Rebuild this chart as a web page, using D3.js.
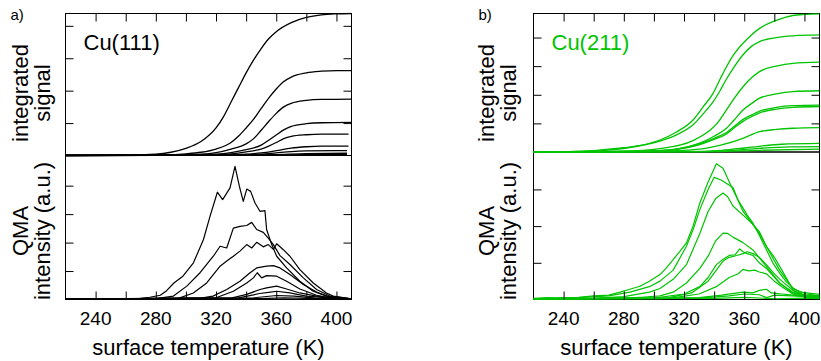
<!DOCTYPE html>
<html>
<head>
<meta charset="utf-8">
<script src="https://cdn.jsdelivr.net/npm/d3@7"></script>
<style>
  body { margin: 0; background: #fff; }
  text { font-family: "Liberation Sans", Arial, Helvetica, sans-serif; }
</style>
</head>
<body>
<div id="chart"></div>
<script>
// ticks on the temperature axis
const tempTicks = [240, 260, 280, 300, 320, 340, 360, 380, 400];
const tempLabels = [240, 280, 320, 360, 400];

// Cu(111) integrated signal, [T (K), value in tick units]
const int111_1 = [[220,0],[260,0.01],[280,0.04],[290,0.1],[300,0.22],[310,0.43],[320,0.85],[325,1.2],[330,1.65],[335,2.1],[340,2.55],[345,2.95],[350,3.3],[355,3.6],[360,3.82],[370,4.1],[380,4.26],[390,4.34],[400,4.37],[410,4.38]];
const int111_2 = [[220,0],[280,0.01],[300,0.05],[310,0.1],[320,0.2],[330,0.4],[335,0.6],[340,0.85],[345,1.12],[350,1.45],[355,1.77],[360,2.05],[365,2.28],[370,2.42],[380,2.55],[390,2.6],[400,2.62],[410,2.62]];
const int111_3 = [[220,0],[290,0.01],[310,0.04],[320,0.09],[330,0.2],[340,0.36],[345,0.52],[350,0.78],[355,1.05],[360,1.3],[365,1.5],[370,1.61],[380,1.7],[390,1.73],[410,1.74]];
const int111_4 = [[220,0],[300,0.01],[320,0.04],[330,0.09],[340,0.18],[350,0.32],[355,0.47],[360,0.63],[365,0.79],[370,0.9],[380,0.98],[390,1.01],[410,1.02]];
const int111_5 = [[220,0],[310,0.01],[330,0.05],[340,0.11],[350,0.2],[355,0.29],[360,0.4],[365,0.52],[370,0.59],[380,0.64],[390,0.66],[408,0.66]];
const int111_6 = [[220,0],[320,0.01],[340,0.04],[350,0.08],[360,0.15],[370,0.23],[380,0.27],[390,0.29],[408,0.29]];
const int111_7 = [[220,0],[330,0.01],[350,0.04],[360,0.08],[370,0.12],[380,0.14],[400,0.15],[407,0.15]];
const int111_8 = [[220,0],[340,0.01],[360,0.03],[380,0.06],[407,0.07]];
const int111_9 = [[220,0],[350,0.01],[380,0.025],[407,0.03]];

// Cu(111) QMA intensity
const tpd111_1 = [[220,0.02],[250,0.02],[270,0.04],[276,0.08],[283,0.15],[287,0.3],[292,0.58],[298,0.82],[305,1.29],[311.6,2.1],[316,2.92],[320.9,3.77],[324.4,3.51],[329.3,3.92],[332.6,4.68],[335.5,3.98],[338.1,3.45],[340.4,3.88],[343,3.8],[345.9,3.39],[349.2,3.1],[352.5,3.12],[353.6,2.46],[357,1.93],[360.3,1.52],[366.9,1.11],[375.7,0.64],[384.6,0.29],[393.4,0.12],[397.8,0.06],[410,0.02]];
const tpd111_2 = [[220,0.01],[280,0.03],[291.7,0.12],[300.6,0.47],[309.4,0.94],[318.2,1.52],[322.7,1.87],[327.1,1.81],[331.5,2.51],[335.9,2.57],[340.4,2.6],[343.7,2.71],[347,2.46],[351.4,2.36],[354.7,2.16],[358.1,1.93],[362.5,1.54],[369.1,1.23],[378,0.76],[386.8,0.35],[395.6,0.12],[410,0.02]];
const tpd111_3 = [[220,0.01],[295,0.04],[304.9,0.23],[313.8,0.58],[322.7,1.17],[327.1,1.35],[331.5,1.52],[335.9,1.7],[340.4,1.93],[343.7,1.81],[347,2.01],[351.4,1.85],[354.7,1.93],[358.1,1.76],[360.3,1.96],[364.7,1.75],[369.1,1.52],[375.7,1.05],[384.6,0.58],[393.4,0.23],[397.8,0.12],[410,0.02]];
const tpd111_4 = [[220,0.01],[310,0.05],[318,0.12],[327.1,0.35],[335.9,0.64],[342.6,0.94],[347,1.11],[353.6,1.17],[358.1,1.19],[362.5,1.11],[369.1,0.88],[378,0.53],[386.8,0.26],[395.6,0.09],[410,0.02]];
const tpd111_5 = [[220,0.01],[320,0.06],[331.5,0.29],[340.4,0.58],[344.8,0.76],[347.4,0.94],[350.3,0.76],[353.6,0.84],[360.3,0.82],[366.9,0.64],[375.7,0.37],[386.8,0.15],[395.6,0.06],[410,0.02]];
const tpd111_6 = [[220,0.01],[330,0.05],[340.4,0.18],[349.2,0.35],[353.6,0.41],[360.3,0.47],[366.9,0.37],[375.7,0.23],[386.8,0.12],[395.6,0.07],[410,0.02]];
const tpd111_7 = [[220,0.01],[335,0.06],[349,0.21],[355,0.25],[360.3,0.29],[369,0.23],[380,0.12],[395,0.06],[410,0.02]];
const tpd111_8 = [[220,0.01],[345,0.06],[360.3,0.14],[372,0.12],[386,0.05],[410,0.02]];
const tpd111_9 = [[220,0.01],[350,0.03],[365,0.06],[380,0.04],[410,0.01]];

// Cu(211) integrated signal
const int211_1 = [[220,0],[250,0.02],[260,0.05],[280,0.15],[290,0.22],[304,0.42],[315,0.7],[326,1.12],[333,1.6],[339.3,2.05],[344,2.55],[348.2,2.98],[353,3.4],[359.2,3.8],[365,4.1],[370.2,4.32],[381.3,4.6],[392.3,4.77],[400,4.81],[410,4.83]];
const int211_2 = [[220,0],[260,0.04],[282,0.14],[304,0.38],[315,0.6],[326,0.95],[333,1.35],[339.3,1.75],[344,2.15],[348.2,2.55],[353,2.95],[359.2,3.4],[365,3.7],[370.2,3.86],[381.3,4.0],[392.3,4.06],[410,4.09]];
const int211_3 = [[220,0],[280,0.03],[304,0.12],[326,0.4],[337,0.75],[342,1.0],[348.2,1.47],[353,1.85],[359.2,2.28],[365,2.6],[370.2,2.81],[381.3,3.0],[392.3,3.1],[410,3.14]];
const int211_4 = [[220,0],[290,0.02],[315,0.1],[330,0.3],[340,0.55],[348.2,0.83],[353,1.1],[359.2,1.47],[365,1.7],[370.2,1.88],[381.3,2.03],[392.3,2.11],[410,2.14]];
const int211_5 = [[220,0],[290,0.02],[315,0.1],[330,0.28],[340,0.48],[348.2,0.68],[353,0.88],[359.2,1.14],[365,1.3],[370.2,1.43],[381.3,1.56],[392.3,1.62],[410,1.64]];
const int211_6 = [[220,0],[290,0.02],[315,0.09],[330,0.25],[340,0.44],[348.2,0.63],[353,0.83],[359.2,1.07],[365,1.24],[370.2,1.37],[381.3,1.5],[392.3,1.56],[410,1.59]];
const int211_7 = [[220,0],[300,0.02],[330,0.1],[345,0.25],[359.2,0.48],[370.2,0.71],[381.3,0.79],[392.3,0.83],[410,0.85]];
const int211_8 = [[220,0],[320,0.01],[345,0.06],[360,0.14],[370,0.2],[385,0.27],[410,0.3]];
const int211_9 = [[220,0],[330,0.01],[350,0.05],[370,0.13],[390,0.18],[410,0.19]];
const int211_10 = [[220,0],[340,0.01],[370,0.06],[410,0.1]];

// Cu(211) QMA intensity
const tpd211_1 = [[220,0.02],[230,0.04],[240,0.05],[250,0.06],[260,0.1],[270,0.12],[277.5,0.2],[284,0.28],[290.7,0.36],[297,0.5],[304,0.68],[308,0.85],[312.8,1.09],[317,1.3],[321.6,1.54],[326,2.0],[330.5,2.63],[336,3.2],[341.5,3.7],[345.9,3.58],[349,3.3],[352.5,2.99],[356,2.7],[359.2,2.49],[362,2.3],[365.8,2.08],[370,1.75],[374.7,1.36],[379,1.0],[383.5,0.72],[388,0.48],[392.3,0.32],[397,0.2],[401.2,0.18],[410,0.14]];
const tpd211_2 = [[220,0.01],[250,0.05],[270,0.1],[284,0.2],[297,0.35],[304,0.5],[312.8,0.8],[321.6,1.45],[326,1.9],[330.5,2.45],[336,3.0],[340,3.33],[345,3.25],[348,3.17],[352.5,3.05],[356,2.7],[359.2,2.4],[365.8,2.04],[370,1.8],[374.7,1.45],[380,1.15],[385,0.8],[392.3,0.27],[397,0.15],[401.2,0.12],[410,0.1]];
const tpd211_3 = [[220,0.01],[260,0.03],[280,0.08],[297,0.2],[304,0.3],[312.8,0.55],[321.6,0.95],[330.5,1.8],[336,2.4],[341,2.75],[345.9,2.9],[349,2.8],[352.5,2.55],[359.2,2.3],[365.8,2.05],[370,1.85],[374.7,1.45],[383.5,0.8],[392.3,0.3],[401.2,0.15],[410,0.1]];
const tpd211_4 = [[220,0.01],[290,0.05],[304,0.1],[312.8,0.2],[321.6,0.45],[330.5,0.85],[336,1.18],[341,1.6],[345.9,1.81],[349,1.8],[352.5,1.7],[359.2,1.55],[365.8,1.35],[374.7,0.9],[383.5,0.45],[392.3,0.2],[401.2,0.1],[410,0.07]];
const tpd211_5 = [[220,0.01],[300,0.04],[320,0.15],[330.5,0.35],[336,0.6],[341.5,0.95],[346,1.1],[350,1.2],[354,1.22],[357,1.38],[359.2,1.3],[362,1.25],[365.8,1.2],[370,1.0],[374.7,0.85],[383.5,0.45],[392.3,0.18],[401.2,0.08],[410,0.05]];
const tpd211_6 = [[220,0.01],[310,0.05],[325,0.18],[336,0.5],[341.5,0.8],[346,1.05],[350,1.15],[355,1.2],[359.2,1.25],[362,1.3],[365.8,1.25],[370,1.15],[374.7,0.95],[380,0.7],[385,0.5],[392.3,0.25],[401.2,0.1],[410,0.05]];
const tpd211_7 = [[220,0.01],[310,0.03],[330,0.15],[341.5,0.35],[350,0.6],[356,0.7],[359.2,0.82],[363,0.78],[367,0.8],[370,0.75],[374.7,0.7],[380,0.5],[385,0.35],[392.3,0.15],[401.2,0.06],[410,0.03]];
const tpd211_8 = [[220,0.02],[300,0.03],[330,0.05],[345,0.12],[359.2,0.2],[365.8,0.18],[370,0.25],[374.7,0.28],[378,0.18],[385,0.15],[392.3,0.12],[401.2,0.08],[410,0.05]];
const tpd211_9 = [[220,0.01],[300,0.02],[330,0.04],[350,0.1],[360,0.15],[370,0.13],[375,0.05],[380,0.12],[392,0.1],[410,0.06]];
const tpd211_10 = [[220,0.03],[230,0.05],[240,0.02],[250,0.04],[260,0.02],[270,0.05],[280,0.03],[290,0.06],[300,0.02],[320,0.04],[340,0.03],[360,0.06],[380,0.02],[400,0.04],[410,0.02]];

const W = 821, H = 361;

const svg = d3.select("#chart").append("svg")
    .attr("width", W)
    .attr("height", H);

const panels = [
    {
        id: "a", tag: "a)", name: "Cu(111)", color: "#000000",
        left: 65.5, right: 351.5, top: 13.5, mid: 155.5, bottom: 299.5,
        topMax: 4.38, botMax: 5.06, topTicks: [1, 2, 3, 4], botTicks: [1, 2, 3, 4],
        titleOff: [37.5, 15.5],
        integ: [int111_1, int111_2, int111_3, int111_4, int111_5, int111_6, int111_7, int111_8, int111_9],
        qma: [tpd111_1, tpd111_2, tpd111_3, tpd111_4, tpd111_5, tpd111_6, tpd111_7, tpd111_8, tpd111_9]
    },
    {
        id: "b", tag: "b)", name: "Cu(211)", color: "#00c400",
        left: 533.5, right: 819.5, top: 13.5, mid: 152, bottom: 299.5,
        topMax: 4.84, botMax: 4.02, topTicks: [1, 2, 3, 4], botTicks: [1, 2, 3],
        titleOff: [39.5, 17.5],
        integ: [int211_1, int211_2, int211_3, int211_4, int211_5, int211_6, int211_7, int211_8, int211_9, int211_10],
        qma: [tpd211_1, tpd211_2, tpd211_3, tpd211_4, tpd211_5, tpd211_6, tpd211_7, tpd211_8, tpd211_9, tpd211_10]
    }
];

panels.forEach(p => drawPanel(p));

function drawPanel(p) {
    const g = svg.append("g");

    const x = d3.scaleLinear().domain([220, 410]).range([p.left, p.right]);
    const yTop = d3.scaleLinear().domain([0, p.topMax]).range([p.mid, p.top]);
    const yBot = d3.scaleLinear().domain([0, p.botMax]).range([p.bottom, p.mid]);

    // clip areas
    const defs = g.append("defs");
    defs.append("clipPath").attr("id", "clip-top-" + p.id)
        .append("rect")
        .attr("x", p.left).attr("y", p.top - 1)
        .attr("width", p.right - p.left).attr("height", p.mid - p.top + 2);
    defs.append("clipPath").attr("id", "clip-bot-" + p.id)
        .append("rect")
        .attr("x", p.left).attr("y", p.mid)
        .attr("width", p.right - p.left).attr("height", p.bottom - p.mid + 1);

    // curves
    const lineTop = d3.line()
        .x(d => x(d[0]))
        .y(d => yTop(d[1]))
        .curve(d3.curveMonotoneX);
    const lineBot = d3.line()
        .x(d => x(d[0]))
        .y(d => yBot(d[1]));

    // frames
    g.append("rect")
        .attr("x", p.left).attr("y", p.top)
        .attr("width", p.right - p.left).attr("height", p.mid - p.top)
        .attr("fill", "none").attr("stroke", "#000").attr("stroke-width", 1);
    g.append("rect")
        .attr("x", p.left).attr("y", p.mid)
        .attr("width", p.right - p.left).attr("height", p.bottom - p.mid)
        .attr("fill", "none").attr("stroke", "#000").attr("stroke-width", 1);

    g.append("g").attr("clip-path", `url(#clip-top-${p.id})`)
        .selectAll("path")
        .data(p.integ)
        .enter()
        .append("path")
        .attr("d", lineTop)
        .attr("fill", "none")
        .attr("stroke", p.color)
        .attr("stroke-width", 1.3);

    g.append("g").attr("clip-path", `url(#clip-bot-${p.id})`)
        .selectAll("path")
        .data(p.qma)
        .enter()
        .append("path")
        .attr("d", lineBot)
        .attr("fill", "none")
        .attr("stroke", p.color)
        .attr("stroke-width", 1.2)
        .attr("stroke-linejoin", "round");

    // inward ticks
    const tickLen = 8;
    g.append("g")
        .attr("transform", `translate(0, ${p.top})`)
        .call(d3.axisTop(x).tickValues(tempTicks).tickSizeInner(-tickLen).tickSizeOuter(0).tickFormat(""))
        .call(a => a.select(".domain").remove());
    g.append("g")
        .attr("transform", `translate(0, ${p.bottom})`)
        .call(d3.axisBottom(x).tickValues(tempTicks).tickSizeInner(-tickLen).tickSizeOuter(0).tickFormat(""))
        .call(a => a.select(".domain").remove());

    [[yTop, p.topTicks], [yBot, p.botTicks]].forEach(([ys, tv]) => {
        g.append("g")
            .attr("transform", `translate(${p.left}, 0)`)
            .call(d3.axisLeft(ys).tickValues(tv).tickSizeInner(-tickLen).tickSizeOuter(0).tickFormat(""))
            .call(a => a.select(".domain").remove());
        g.append("g")
            .attr("transform", `translate(${p.right}, 0)`)
            .call(d3.axisRight(ys).tickValues(tv).tickSizeInner(-tickLen).tickSizeOuter(0).tickFormat(""))
            .call(a => a.select(".domain").remove());
    });

    // tick labels
    g.selectAll("text.tlab")
        .data(tempLabels)
        .enter()
        .append("text")
        .attr("class", "tlab")
        .attr("x", d => x(d))
        .attr("y", 325)
        .attr("text-anchor", "middle")
        .style("font-size", "19px")
        .text(d => d);

    // x title
    g.append("text")
        .attr("x", (p.left + p.right) / 2)
        .attr("y", 355)
        .attr("text-anchor", "middle")
        .style("font-size", "22px")
        .text("surface temperature (K)");

    // y titles
    const titles = [
        { yc: 93, lines: ["integrated", "signal"] },
        { yc: 231, lines: ["QMA", "intensity (a.u.)"] }
    ];
    titles.forEach(t => {
        t.lines.forEach((s, i) => {
            g.append("text")
                .attr("transform", `translate(${p.left - p.titleOff[i]}, ${t.yc}) rotate(-90)`)
                .attr("text-anchor", "middle")
                .style("font-size", "22px")
                .text(s);
        });
    });

    // panel letter and surface name
    g.append("text")
        .attr("x", p.left - 55)
        .attr("y", 20)
        .style("font-size", "15px")
        .text(p.tag);
    g.append("text")
        .attr("x", p.left + 18)
        .attr("y", 50)
        .attr("fill", p.color)
        .style("font-size", "22px")
        .text(p.name);
}
</script>
</body>
</html>
